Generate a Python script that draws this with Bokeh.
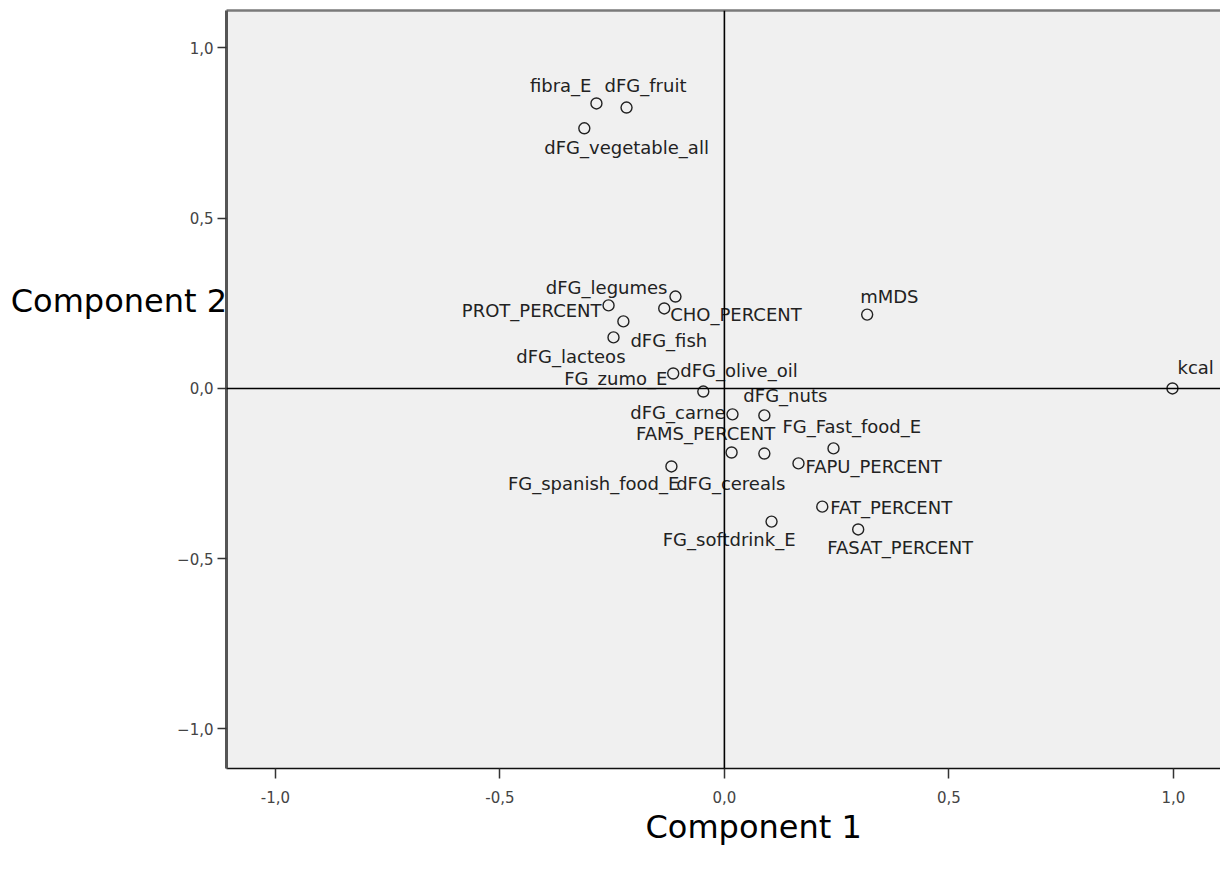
from bokeh.plotting import figure
from bokeh.models import ColumnDataSource, Span, FixedTicker, LinearAxis, Title
from bokeh.embed import file_html
from bokeh.resources import INLINE
from bokeh.core.properties import value

# ---- data: component loadings ----
names = ["fibra_E", "dFG_fruit", "dFG_vegetable_all", "dFG_legumes", "PROT_PERCENT",
         "CHO_PERCENT", "dFG_fish", "dFG_lacteos", "dFG_olive_oil", "FG_zumo_E",
         "dFG_carne", "dFG_nuts", "FAMS_PERCENT", "FG_Fast_food_E", "FAPU_PERCENT",
         "dFG_cereals", "FG_spanish_food_E", "FAT_PERCENT", "FG_softdrink_E",
         "FASAT_PERCENT", "mMDS", "kcal"]
comp1 = [-0.285, -0.218, -0.312, -0.109, -0.258, -0.134, -0.225, -0.247, -0.114, -0.047,
         0.018, 0.089, 0.016, 0.243, 0.165, 0.089, -0.118, 0.218, 0.105, 0.298, 0.318, 0.998]
comp2 = [0.837, 0.825, 0.764, 0.270, 0.244, 0.235, 0.197, 0.150, 0.044, -0.009,
         -0.076, -0.079, -0.188, -0.176, -0.220, -0.191, -0.229, -0.347, -0.391, -0.414,
         0.217, 0.000]
tick_values = [-1.0, -0.5, 0.0, 0.5, 1.0]
x_tick_labels = ["-1,0", "-0,5", "0,0", "0,5", "1,0"]
y_tick_labels = ["\u22121,0", "\u22120,5", "0,0", "0,5", "1,0"]

# ---- label placement (layout only, pixels) ----
label_align = ["right", "left", "left", "right", "right", "left", "left", "right", "left", "right",
               "right", "left", "center", "left", "left", "right", "right", "left", "right",
               "left", "left", "left"]
label_dx = [-5, -22, -40, -8, -7, 6, 7, 12, 7, -36, -7, -21, -26, -51, 7, 21, 8, 8, 24, -31, -7, 5]
label_dy = [-18, -22, 19, -9, 5, 6, 19, 19, -3, -13, -2, -20, -19, -22, 3, 30, 17, 1, 18, 18, -18, -21]

FONT = "DejaVu Sans"

src = ColumnDataSource(dict(x=comp1, y=comp2, name=names, align=label_align,
                            dx=label_dx, dy=label_dy))

p = figure(width=1220, height=870, output_backend="svg", toolbar_location=None,
           x_range=(-1.109, 1.105), y_range=(-1.116, 1.110),
           min_border_left=226, min_border_right=0, min_border_top=10, min_border_bottom=102)
p.background_fill_color = "#f0f0f0"
p.border_fill_color = "white"
p.outline_line_color = None
p.grid.visible = False

for ax in (p.xaxis[0], p.yaxis[0]):
    ax.ticker = FixedTicker(ticks=tick_values)
    ax.minor_tick_line_color = None
    ax.major_tick_in = 0
    ax.major_tick_out = 10
    ax.major_tick_line_color = "#333333"
    ax.major_tick_line_width = 1.5
    ax.major_label_text_font = FONT
    ax.major_label_text_font_size = "15px"
    ax.major_label_text_color = "#444444"
p.xaxis[0].major_label_overrides = dict(zip(tick_values, x_tick_labels))
p.yaxis[0].major_label_overrides = dict(zip(tick_values, y_tick_labels))
p.xaxis[0].axis_line_color = "#111111"
p.xaxis[0].axis_line_width = 1.5
p.xaxis[0].major_label_standoff = 12
p.yaxis[0].axis_line_color = "#555555"
p.yaxis[0].axis_line_width = 3
p.yaxis[0].major_label_standoff = 4
p.yaxis[0].major_tick_out = 9

# horizontal y-axis title, shifted up by blank trailing lines
p.yaxis[0].axis_label = "Component 2\n\n\n\n\n "
p.yaxis[0].axis_label_orientation = "horizontal"
p.yaxis[0].axis_label_standoff = -53
p.yaxis[0].axis_label_text_font = FONT
p.yaxis[0].axis_label_text_font_size = "32px"
p.yaxis[0].axis_label_text_font_style = "normal"
p.yaxis[0].axis_label_text_color = "black"
p.yaxis[0].axis_label_text_line_height = 0.93

top = LinearAxis(ticker=FixedTicker(ticks=[]), major_tick_out=0, major_tick_in=0,
                 major_label_standoff=0, major_label_text_font_size="0px",
                 minor_tick_line_color=None, axis_line_color="#7a7a7a", axis_line_width=2.5)
p.add_layout(top, "above")

p.add_layout(Title(text="Component 1", align="left", offset=419, standoff=0,
                   text_font=FONT, text_font_size="32px", text_font_style="normal",
                   text_color="black"), "below")

p.add_layout(Span(location=0, dimension="height", line_color="black", line_width=1.6))
p.add_layout(Span(location=0, dimension="width", line_color="black", line_width=1.6))

p.scatter("x", "y", source=src, marker="circle", size=11, fill_color=None,
          line_color="#222222", line_width=1.4)
p.text("x", "y", text="name", source=src, x_offset="dx", y_offset="dy",
       text_align="align", text_baseline="middle", text_font=value(FONT),
       text_font_size="18px", text_color="#222222")

open("out.html", "w").write(file_html(p, INLINE))
